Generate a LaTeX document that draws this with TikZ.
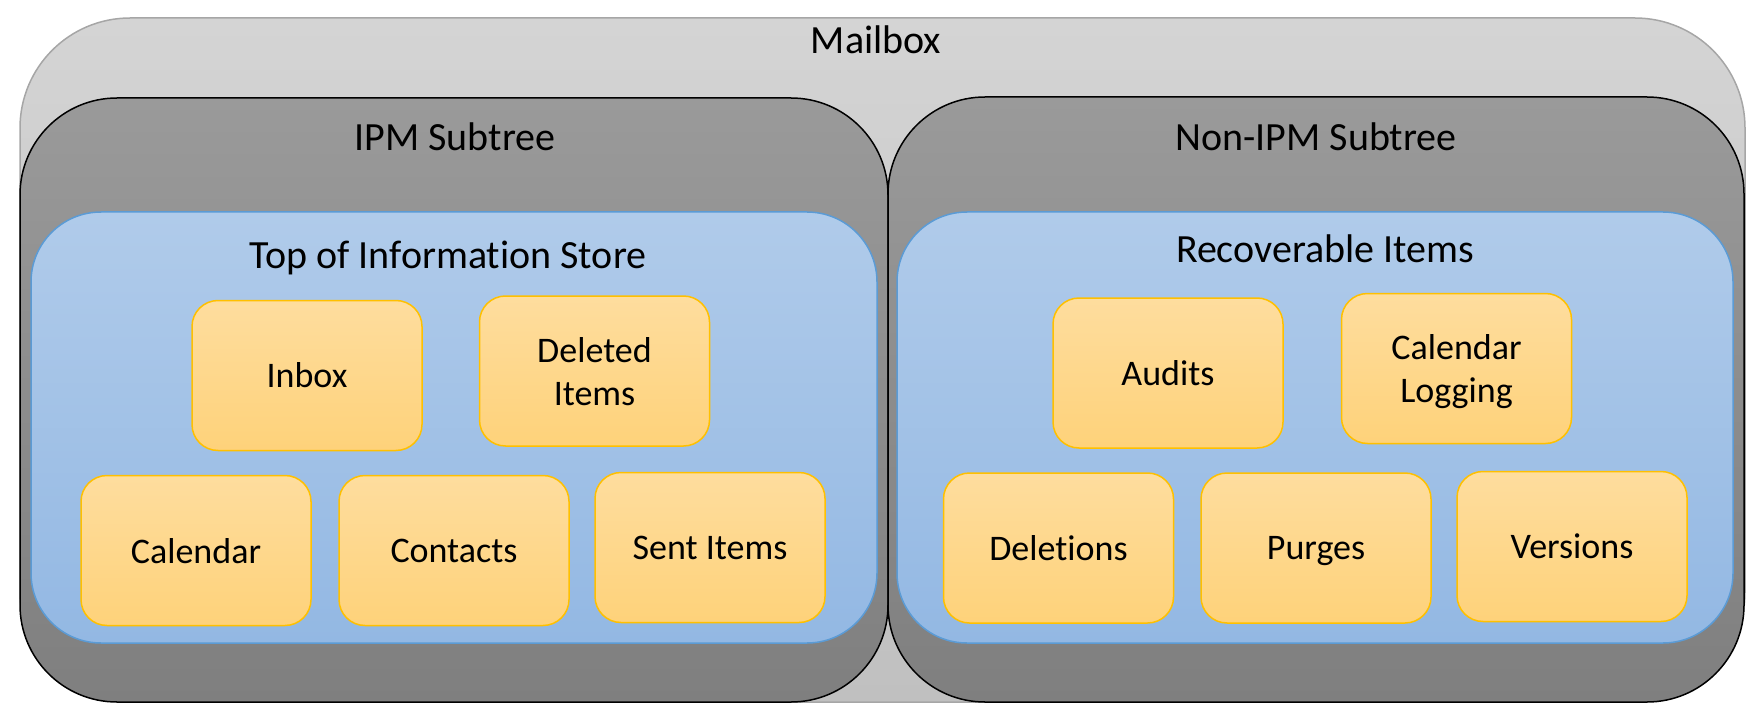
\documentclass[tikz,border=0pt]{standalone}
\usepackage{fontspec}
\setmainfont{Carlito}[Ligatures={NoCommon}]
\definecolor{mbTop}{HTML}{D4D4D4}
\definecolor{mbBot}{HTML}{C0C0C0}
\definecolor{mbLine}{HTML}{A6A6A6}
\definecolor{stTop}{HTML}{9A9A9A}
\definecolor{stBot}{HTML}{7F7F7F}
\definecolor{blTop}{HTML}{B0CBEA}
\definecolor{blBot}{HTML}{93B8E3}
\definecolor{blLine}{HTML}{5B9BD5}
\definecolor{ylTop}{HTML}{FEDD9E}
\definecolor{ylBot}{HTML}{FED27A}
\definecolor{ylLine}{HTML}{FFC000}
\tikzset{
  mailboxbox/.style={draw=mbLine, line width=1.5pt, top color=mbTop, bottom color=mbBot, rounded corners=110pt, inner sep=0pt},
  subtreebox/.style={draw=black, line width=1.5pt, top color=stTop, bottom color=stBot, rounded corners=97pt, inner sep=0pt},
  bluebox/.style={draw=blLine, line width=1.5pt, top color=blTop, bottom color=blBot, rounded corners=70pt, inner sep=0pt},
  itembox/.style={draw=ylLine, line width=1.5pt, top color=ylTop, bottom color=ylBot, rounded corners=26pt, inner sep=0pt, minimum width=230pt, minimum height=150pt, align=center, text depth=0pt, font=\fontsize{36}{43}\selectfont},
  titletext/.style={inner sep=0pt, text depth=0pt, font=\fontsize{40}{47}\selectfont},
}
\begin{document}
\begin{tikzpicture}[x=1pt, y=-1pt]
\useasboundingbox (0,0) rectangle (1761,722);
\node[mailboxbox, minimum width=1725pt, minimum height=684pt] (mailbox) at (882.5,360) {};
\node[subtreebox, minimum width=868pt, minimum height=604pt] (ipm) at (454,400) {};
\node[subtreebox, minimum width=856pt, minimum height=605pt] (nonipm) at (1316,399.5) {};
\node[bluebox, minimum width=846pt, minimum height=431pt] (tois) at (454,427.5) {};
\node[bluebox, minimum width=836pt, minimum height=431pt] (recov) at (1315,427.5) {};
\node[titletext] (tmailbox) at (876,40) {Mailbox};
\node[titletext] (tipm) at (455,137) {IPM Subtree};
\node[titletext] (tnonipm) at (1316,137) {Non-IPM Subtree};
\node[titletext] (ttois) at (448,255) {Top of Information Store};
\node[titletext] (trecov) at (1325,249) {Recoverable Items};
\node[itembox] (inbox) at (307,375.5) {Inbox};
\node[itembox] (deleted) at (594.5,371) {Deleted\\Items};
\node[itembox] (calendar) at (196,550.5) {Calendar};
\node[itembox] (contacts) at (454,550.5) {Contacts};
\node[itembox] (sent) at (710,547.5) {Sent Items};
\node[itembox] (audits) at (1168,373) {Audits};
\node[itembox] (callog) at (1456.5,368.5) {Calendar\\Logging};
\node[itembox] (deletions) at (1058.5,548) {Deletions};
\node[itembox] (purges) at (1316,548) {Purges};
\node[itembox] (versions) at (1572,546.5) {Versions};
\end{tikzpicture}
\end{document}
